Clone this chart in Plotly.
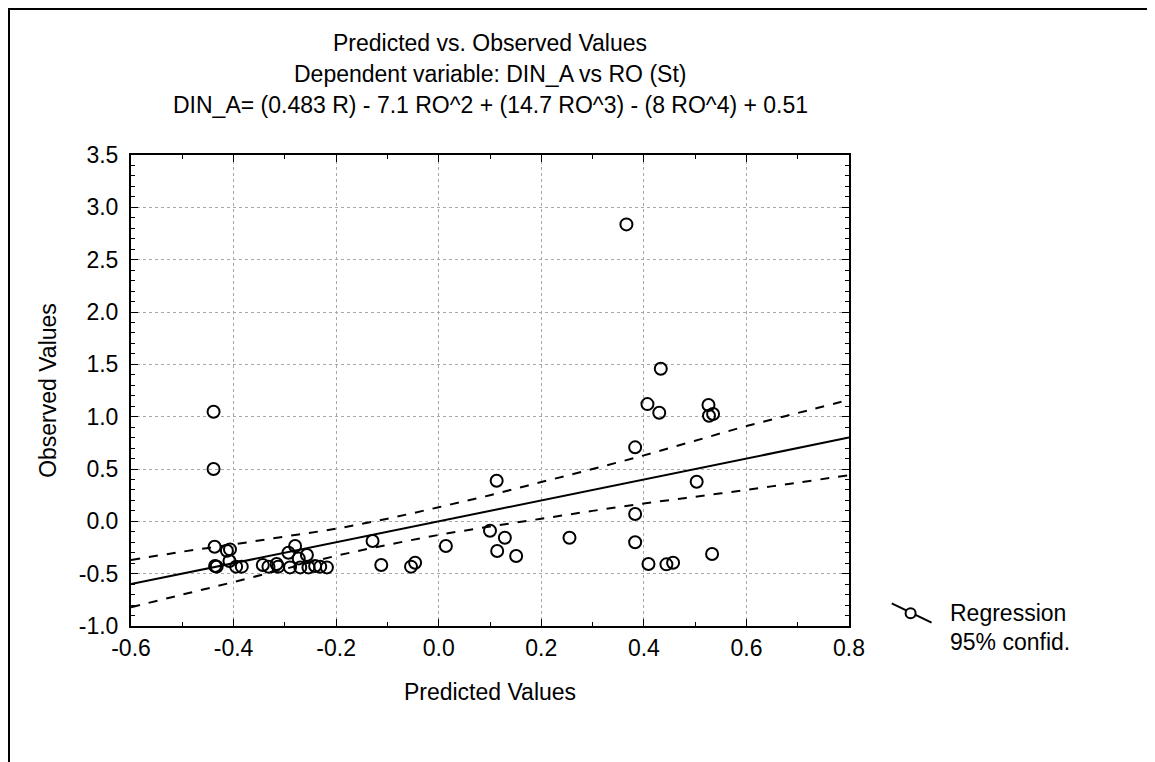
import plotly.graph_objects as go

# observed vs predicted values
pred = [-0.439, -0.439, -0.437, -0.436, -0.433, -0.413, -0.407, -0.408, -0.395, -0.384,
        -0.343, -0.332, -0.316, -0.313, -0.293, -0.280, -0.273, -0.257, -0.290, -0.270,
        -0.254, -0.241, -0.231, -0.218, -0.129, -0.112, -0.054, -0.046, 0.014, 0.100,
        0.113, 0.129, 0.114, 0.151, 0.255, 0.366, 0.383, 0.383, 0.383, 0.407,
        0.430, 0.433, 0.409, 0.444, 0.457, 0.503, 0.526, 0.527, 0.535, 0.533]
obs = [1.047, 0.500, -0.243, -0.427, -0.433, -0.281, -0.268, -0.379, -0.433, -0.433,
       -0.417, -0.433, -0.408, -0.433, -0.300, -0.236, -0.354, -0.322, -0.440, -0.440,
       -0.440, -0.427, -0.433, -0.440, -0.188, -0.417, -0.433, -0.395, -0.236, -0.090,
       0.388, -0.157, -0.284, -0.331, -0.157, 2.837, 0.707, 0.070, -0.200, 1.120,
       1.037, 1.458, -0.408, -0.411, -0.395, 0.378, 1.111, 1.009, 1.025, -0.312]

# regression line and 95% confidence band
reg_x = [-0.6, 0.8]
reg_y = [-0.6, 0.8]
band_x = [-0.6, -0.5, -0.4, -0.3, -0.2, -0.1, 0.0, 0.1, 0.2, 0.3, 0.4, 0.5, 0.6, 0.7, 0.8]
band_hi = [-0.37, -0.29, -0.22, -0.145, -0.07, 0.025, 0.135, 0.25, 0.375, 0.50, 0.63, 0.77, 0.91, 1.035, 1.16]
band_lo = [-0.82, -0.70, -0.58, -0.455, -0.33, -0.225, -0.13, -0.05, 0.025, 0.10, 0.17, 0.235, 0.30, 0.37, 0.44]

# tick labels (plain hyphen as in the original)
x_ticks = [-0.6, -0.4, -0.2, 0.0, 0.2, 0.4, 0.6, 0.8]
x_labels = ["-0.6", "-0.4", "-0.2", "0.0", "0.2", "0.4", "0.6", "0.8"]
y_ticks = [-1.0, -0.5, 0.0, 0.5, 1.0, 1.5, 2.0, 2.5, 3.0, 3.5]
y_labels = ["-1.0", "-0.5", "0.0", "0.5", "1.0", "1.5", "2.0", "2.5", "3.0", "3.5"]

FONT = "Liberation Sans, Arial, sans-serif"
FS = 23

fig = go.Figure()
fig.add_trace(go.Scatter(x=band_x, y=band_hi, mode="lines", line=dict(color="black", width=2, dash="dash", shape="spline")))
fig.add_trace(go.Scatter(x=band_x, y=band_lo, mode="lines", line=dict(color="black", width=2, dash="dash", shape="spline")))
fig.add_trace(go.Scatter(x=reg_x, y=reg_y, mode="lines", line=dict(color="black", width=2)))
fig.add_trace(go.Scatter(x=pred, y=obs, mode="markers",
                         marker=dict(symbol="circle-open", size=12, color="black", line=dict(width=2))))

axis = dict(showline=True, linecolor="black", linewidth=2, mirror="allticks",
            ticks="inside", ticklen=7, tickcolor="black",
            showgrid=True, gridcolor="#a8a8a8", griddash="dot", gridwidth=1,
            zeroline=False, tickfont=dict(size=FS, color="black"),
            title_font=dict(size=FS, color="black"))

fig.update_xaxes(range=[-0.6, 0.8], tickvals=x_ticks, ticktext=x_labels,
                 minor=dict(ticks="inside", dtick=0.1, ticklen=4, tickcolor="black", showgrid=False),
                 title_text="Predicted Values", title_standoff=24, **axis)
fig.update_yaxes(range=[-1.0, 3.5], tickvals=y_ticks, ticktext=y_labels, ticklabelstandoff=6,
                 minor=dict(ticks="inside", dtick=0.1, ticklen=4, tickcolor="black", showgrid=False),
                 title_text="Observed Values", title_standoff=16, **axis)

titles = ["Predicted vs. Observed Values",
          "Dependent variable: DIN_A vs RO (St)",
          "DIN_A= (0.483 R) - 7.1 RO^2 + (14.7 RO^3) - (8 RO^4) + 0.51"]
for i, t in enumerate(titles):
    fig.add_annotation(text=t, xref="paper", yref="paper", x=0.5, y=(626 - (43 + 31 * i)) / 471,
                       showarrow=False, font=dict(size=FS, color="black"), xanchor="center", yanchor="middle")

# legend: slanted line with circle
fig.add_shape(type="line", xref="paper", yref="paper", x0=1.0595, y0=0.0482, x1=1.1150, y1=0.0070,
              line=dict(color="black", width=2))
fig.add_shape(type="circle", xref="paper", yref="paper", x0=1.0858 - 0.0070, x1=1.0858 + 0.0070,
              y0=0.0270 - 0.0106, y1=0.0270 + 0.0106, line=dict(color="black", width=2), fillcolor="white")
fig.add_annotation(text="Regression", xref="paper", yref="paper", x=1.1379, y=(626 - 613) / 471,
                   showarrow=False, font=dict(size=FS, color="black"), xanchor="left", yanchor="middle")
fig.add_annotation(text="95% confid.", xref="paper", yref="paper", x=1.1379, y=(626 - 642) / 471,
                   showarrow=False, font=dict(size=FS, color="black"), xanchor="left", yanchor="middle")

# outer frame
fig.add_shape(type="rect", xref="paper", yref="paper", x0=(9 - 131) / 718, x1=(1148 - 131) / 718,
              y0=-0.4, y1=(626 - 9) / 471, line=dict(color="black", width=2), layer="below")

# page body adds an 8 px margin, so the figure is sized and placed to compensate
fig.update_layout(width=1145, height=754, showlegend=False,
                  margin=dict(l=123, r=304, t=147, b=136),
                  plot_bgcolor="white", paper_bgcolor="white",
                  font=dict(family=FONT, color="black"))

fig.write_html("out.html")
